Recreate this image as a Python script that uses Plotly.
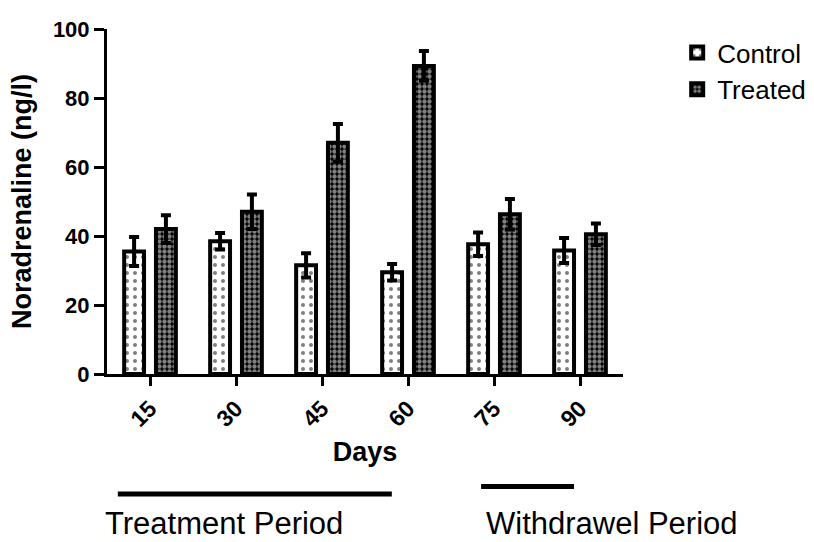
import plotly.graph_objects as go

# Sampling days (x categories)
days = ["15", "30", "45", "60", "75", "90"]

# Mean noradrenaline levels (ng/l) and their error margins
control = [35.5, 38.5, 31.5, 29.5, 37.6, 35.8]
control_err = [4.2, 2.4, 3.5, 2.4, 3.4, 3.6]
treated = [42.0, 47.0, 67.0, 89.3, 46.3, 40.5]
treated_err = [4.0, 5.0, 5.5, 4.3, 4.4, 3.1]

y_ticks = [0, 20, 40, 60, 80, 100]

FONT = "Liberation Sans, Arial, sans-serif"

fig = go.Figure()

fig.add_trace(go.Bar(
    name="Control",
    x=days,
    y=control,
    error_y=dict(type="data", array=control_err, visible=True,
                 color="black", thickness=4, width=5),
    marker=dict(
        color="white",
        line=dict(color="black", width=4),
        pattern=dict(shape=".", fgcolor="black", bgcolor="white",
                     size=8, solidity=0.2, fillmode="overlay"),
    ),
))

fig.add_trace(go.Bar(
    name="Treated",
    x=days,
    y=treated,
    error_y=dict(type="data", array=treated_err, visible=True,
                 color="black", thickness=4, width=5),
    marker=dict(
        color="black",
        line=dict(color="black", width=4),
        pattern=dict(shape=".", fgcolor="white", bgcolor="black",
                     size=5, solidity=0.6, fillmode="overlay"),
    ),
))

# Period markers below the axis (paper coords: plot area is 516 x 345 px)
shapes = [
    dict(type="line", xref="paper", yref="paper",
         x0=0.021, x1=0.552, y0=-0.348, y1=-0.348,
         line=dict(color="black", width=5)),
    dict(type="line", xref="paper", yref="paper",
         x0=0.725, x1=0.905, y0=-0.326, y1=-0.326,
         line=dict(color="black", width=5)),
]

annotations = [
    dict(text="Treatment Period", xref="paper", yref="paper",
         x=0.227, y=-0.378, showarrow=False,
         font=dict(family=FONT, size=31, color="black"),
         xanchor="center", yanchor="top"),
    dict(text="Withdrawel Period", xref="paper", yref="paper",
         x=0.979, y=-0.378, showarrow=False,
         font=dict(family=FONT, size=31, color="black"),
         xanchor="center", yanchor="top"),
]

fig.update_layout(
    width=814,
    height=542,
    margin=dict(l=107, r=191, t=29, b=168, autoexpand=False),
    paper_bgcolor="white",
    plot_bgcolor="white",
    barmode="group",
    bargap=0.26,
    bargroupgap=0.375,
    font=dict(family=FONT, color="black"),
    showlegend=True,
    legend=dict(
        x=1.105, y=1.0, xanchor="left", yanchor="top",
        font=dict(family=FONT, size=26, color="black"),
        bgcolor="rgba(0,0,0,0)",
        tracegroupgap=0,
    ),
    shapes=shapes,
    annotations=annotations,
    xaxis=dict(
        type="category",
        range=[-0.5, 5.5],
        showline=True, linecolor="black", linewidth=3,
        ticks="outside", ticklen=9, tickwidth=3, tickcolor="black",
        tickangle=-45,
        tickfont=dict(family=FONT, size=23, color="black", weight="bold"),
        title=dict(text="<b>Days</b>",
                   font=dict(family=FONT, size=27, color="black"),
                   standoff=12),
        showgrid=False, zeroline=False,
    ),
    yaxis=dict(
        range=[0, 100],
        tickvals=y_ticks,
        showline=True, linecolor="black", linewidth=3,
        ticks="outside", ticklen=10, tickwidth=3, tickcolor="black",
        tickfont=dict(family=FONT, size=22, color="black", weight="bold"),
        title=dict(text="<b>Noradrenaline (ng/l)</b>",
                   font=dict(family=FONT, size=27, color="black"),
                   standoff=14),
        showgrid=False, zeroline=False,
    ),
)

fig.write_html("out.html")
